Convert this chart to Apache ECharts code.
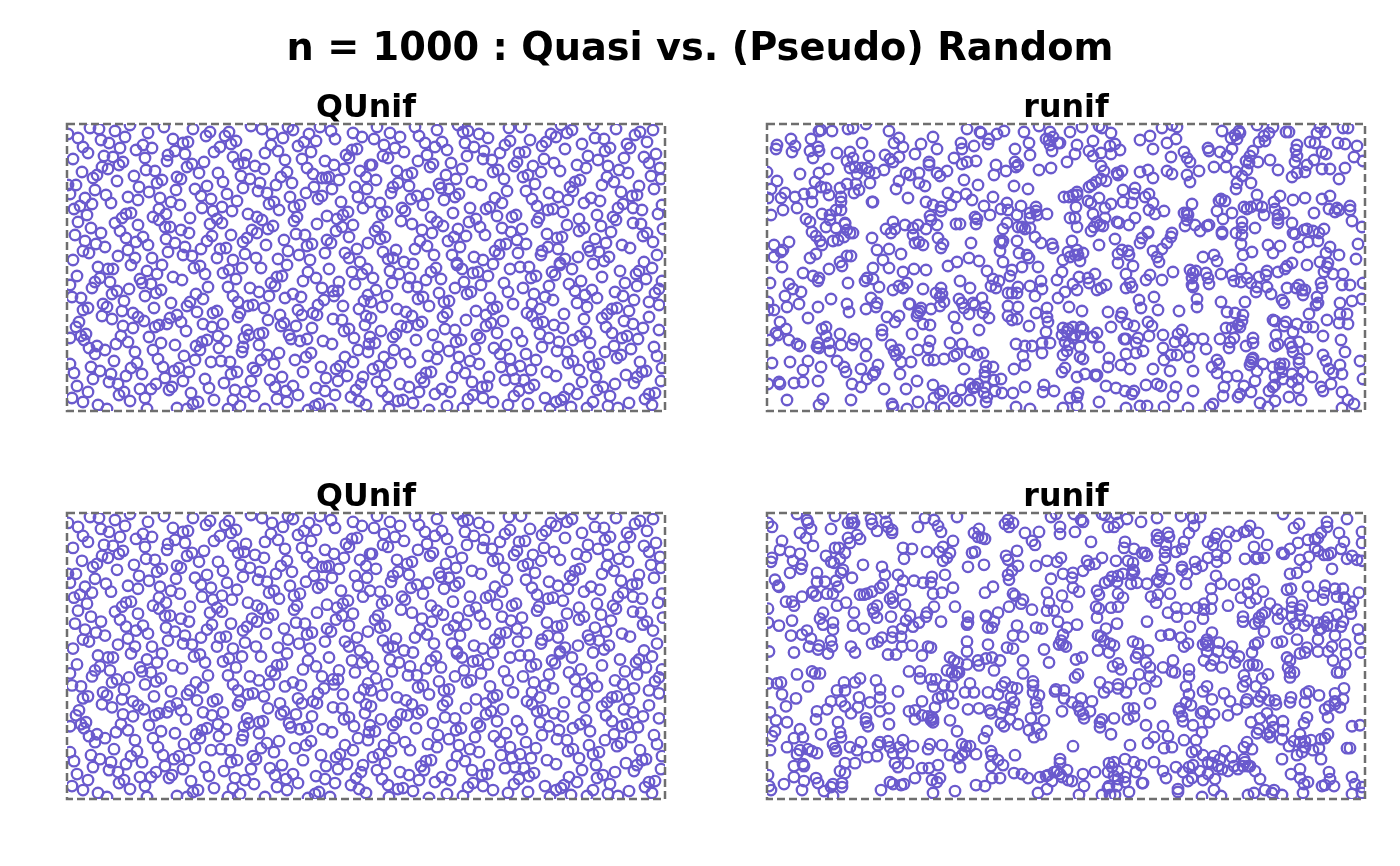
<!DOCTYPE html>
<html><head><meta charset="utf-8">
<script src="https://cdn.jsdelivr.net/npm/echarts@6/dist/echarts.min.js"></script>
<style>html,body{margin:0;background:#fff}#c{width:1400px;height:866px}</style></head>
<body><div id="c"></div>
<script>
const mainTitle='n = 1000 : Quasi vs. (Pseudo) Random';
const panelNames=['QUnif','runif','QUnif','runif'];
const qunifPts=[
1,10,23,4,32,5,48,7,63,1,81,9,97,3,126,5,143,8,139,12,162,8,158,12,184,2,195,5,205,10,221,3,226,6,242,10,253,3,264,7,268,15,286,9,295,13,11,14,34,16,42,19,58,13,106,15,116,19,121,18,169,17,164,20,216,14,204,21,231,22,237,18,249,17,16,23,21,29,53,24,69,26,76,21,85,24,108,27,101,31,100,37,118,30,147,28,153,23,198,29,211,27,244,28,279,31,285,26,290,25,282,34,6,35,37,32,46,33,56,38,52,41,35,43,41,45,78,34,125,40,120,43,137,38,166,33,179,31,171,40,177,39,188,42,197,45,218,36,235,35,240,44,258,37,267,41,277,45,303,41,15,48,30,51,26,54,67,52,79,46,88,47,132,49,151,49,174,52,220,48,214,53,246,50,293,47,299,53,1,61,9,61,50,57,90,59,95,56,110,53,114,55,156,58,183,55,193,59,209,61,225,59,255,54,259,54,262,53,272,56,3,70,28,66,72,63,82,68,109,66,128,65,140,62,176,64,191,67,200,69,247,63,239,69,265,65,288,63,300,65,18,74,39,71,61,73,71,76,93,74,134,72,144,75,160,70,170,77,223,73,255,72,251,75,291,73,7,85,13,82,25,80,44,79,104,78,113,81,202,80,207,78,227,83,233,81,274,78,92,85,135,84,146,87,155,83,165,87,212,86,296,84,20,91,64,89,59,90,55,94,99,90,86,93,123,94,181,90,190,93,195,96,230,93,227,97,260,92,281,88,276,91,270,95,11,98,48,99,92,96,150,95,143,100,155,99,250,100,206,102,24,104,71,101,53,107,98,103,103,103,114,106,122,109,185,106,190,109,201,105,275,103,269,107,286,101,8,111,34,109,59,114,76,113,145,112,140,117,164,111,229,110,238,111,282,113,18,117,69,118,99,115,108,119,176,118,180,114,217,116,260,116,264,119,301,119,29,120,38,123,81,121,118,123,199,121,245,120,240,122,134,125,153,125,159,124,16,127,22,129,61,126,101,128,221,127,258,129,278,129,290,125,6,136,51,132,68,134,85,134,116,131,125,132,150,134,178,130,189,134,166,136,211,135,232,131,243,136,282,134,293,138,
310,3,307,15,323,9,333,13,348,3,352,12,358,19,370,6,375,18,380,26,368,23,391,1,396,8,401,7,412,10,421,14,442,4,454,3,463,16,443,17,438,21,433,29,417,27,398,19,407,23,400,32,416,35,425,36,452,29,458,28,479,18,475,22,484,10,489,13,500,9,505,6,494,1,498,25,515,20,526,1,528,14,537,15,549,5,568,11,573,8,586,6,580,18,560,20,563,24,543,24,538,27,521,32,531,36,557,34,577,33,589,30,582,39,593,44,317,21,328,24,337,28,316,32,321,34,360,31,351,37,384,39,305,41,330,47,366,40,363,43,395,45,379,51,426,48,431,46,450,38,447,42,466,42,477,35,487,39,493,47,510,41,519,44,541,42,552,46,561,49,540,53,584,52,594,55,309,56,340,51,345,49,331,59,326,63,324,69,342,62,372,60,374,64,389,55,382,65,405,58,414,61,437,55,456,53,461,51,474,48,468,60,440,67,459,67,482,69,491,73,501,76,508,58,513,56,503,63,506,67,535,61,547,58,554,68,572,62,587,65,350,72,344,75,361,70,392,70,388,73,377,76,428,74,423,83,419,85,435,79,465,75,470,82,481,86,486,85,496,88,517,79,524,74,533,77,551,84,556,80,565,72,570,71,566,84,575,86,595,81,591,90,303,78,313,79,315,91,320,88,335,84,338,87,356,81,386,89,403,84,409,95,402,98,430,92,445,93,449,91,472,94,470,98,512,95,530,91,546,93,549,96,334,97,345,100,364,93,370,98,376,102,413,103,500,101,534,102,566,99,574,100,596,105,311,103,308,107,318,113,313,115,355,106,365,109,391,105,387,113,381,117,399,112,418,111,435,104,444,108,455,105,480,110,490,114,495,113,517,104,512,107,544,108,580,109,576,112,586,118,528,115,539,119,353,117,360,122,348,125,393,123,329,126,316,128,450,116,459,120,439,120,433,121,428,127,432,130,451,129,481,123,475,127,474,131,491,125,521,123,523,127,532,128,555,121,563,124,590,131,321,135,326,134,337,138,346,140,367,131,385,131,390,139,407,133,416,136,426,140,493,139,498,135,511,133,526,140,537,137,542,133,577,138,
31,143,41,145,46,145,64,141,80,147,95,141,127,144,133,142,138,150,156,149,162,146,175,144,194,144,220,141,241,148,262,145,285,148,295,150,3,161,10,152,33,154,28,158,25,164,43,158,73,155,75,159,84,160,90,150,106,153,115,156,141,163,161,163,169,155,183,164,192,168,202,172,204,159,208,162,210,153,215,152,236,157,249,154,255,164,272,158,266,167,271,167,288,160,50,167,45,170,62,165,94,166,89,169,78,172,5,173,14,174,57,177,36,180,40,183,129,170,123,178,120,182,136,175,166,172,171,178,181,182,186,181,197,184,218,174,226,170,234,173,257,176,251,181,267,172,276,182,297,177,301,171,16,186,21,184,87,184,104,179,130,188,55,187,66,189,71,193,77,197,35,192,45,195,110,191,103,194,114,198,146,189,150,187,173,189,171,193,231,186,213,191,246,189,250,191,292,185,299,192,266,195,275,196,201,196,235,191,12,198,9,203,56,202,66,204,92,201,88,203,82,213,100,200,119,207,136,200,156,200,145,203,180,206,192,210,196,209,217,199,214,202,245,204,298,201,282,205,277,207,287,214,229,202,19,210,14,212,3,214,54,212,61,218,49,220,94,219,151,212,159,217,140,216,135,218,129,222,133,226,152,224,182,211,177,214,175,228,192,221,240,215,233,217,222,211,224,215,256,217,265,220,303,213,17,216,30,222,22,224,28,230,38,226,47,237,68,228,86,226,108,221,117,232,176,223,212,229,244,229,239,233,228,236,200,231,194,236,291,226,301,228,3,240,24,243,7,249,33,247,91,235,96,243,128,236,144,238,154,237,163,238,207,240,107,247,112,244,122,248,70,239,64,244,278,233,286,238,273,242,269,245,254,243,186,244,189,247,170,248,164,250,44,250,59,252,75,250,236,248,296,253,280,252,259,254,271,257,26,255,42,258,51,260,98,254,116,257,138,255,184,257,203,256,215,253,157,259,89,260,10,262,142,264,168,266,208,263,226,262,294,260,21,268,73,265,105,263,102,266,57,268,52,271,84,265,78,274,124,269,178,268,187,272,231,271,219,267,249,264,258,267,268,271,289,266,5,274,16,278,63,277,147,276,166,276,210,275,220,278,284,273,292,277,131,278,126,280,31,281,40,285,80,285,110,284,120,285,161,285,173,282,198,285,241,286,248,282,252,280,263,285,299,281,
300,145,306,154,323,147,332,150,325,159,343,154,341,163,350,163,359,156,364,148,369,144,374,155,390,141,395,145,406,149,411,148,421,152,397,158,388,164,414,161,404,168,400,170,372,169,309,166,320,172,356,173,351,175,382,177,377,178,362,182,304,178,315,183,330,185,339,188,345,192,423,174,430,183,426,185,409,187,419,191,380,189,376,193,399,196,437,159,441,168,456,164,464,154,469,152,443,145,453,143,462,143,485,148,488,151,482,162,505,145,493,141,514,157,535,153,553,147,569,150,572,147,585,144,579,155,570,162,558,159,502,160,508,167,525,166,518,171,530,174,548,168,556,172,567,176,595,157,592,165,588,169,582,178,592,181,467,170,478,173,486,176,465,180,446,180,473,185,460,189,465,192,497,190,510,179,520,183,470,199,476,198,487,201,496,204,517,195,535,194,540,190,545,185,550,184,562,187,557,197,566,200,582,193,576,204,592,206,539,203,545,209,555,214,560,212,571,215,519,208,513,212,506,216,523,219,473,210,482,214,492,218,475,223,490,227,500,228,450,209,455,217,430,209,436,197,424,199,419,202,410,211,413,214,388,206,378,205,366,211,394,216,389,218,349,216,329,210,326,213,314,207,334,202,340,203,351,201,355,198,304,194,308,219,302,220,327,226,338,230,317,233,371,223,382,227,361,232,370,235,408,225,427,224,439,221,433,230,443,235,459,230,469,236,522,233,538,228,547,222,564,225,587,223,590,232,554,231,550,234,573,238,392,233,403,237,412,240,343,238,324,239,312,242,306,245,501,239,506,237,526,242,532,240,434,243,453,242,445,246,464,246,390,244,512,246,595,244,579,247,575,248,570,253,567,259,559,251,480,248,489,252,318,251,364,248,359,249,354,254,357,258,385,253,398,249,422,253,438,256,448,255,457,256,529,253,515,258,594,257,310,258,405,258,333,260,342,263,352,268,420,262,415,263,467,261,462,264,375,265,383,268,368,270,315,267,321,273,406,271,401,275,416,274,426,278,502,265,510,270,536,263,530,266,548,260,452,267,447,272,441,281,461,280,478,274,497,273,494,276,489,278,526,278,543,272,588,269,582,270,578,275,585,281,562,279,331,277,336,276,346,279,322,285,362,286,380,282,396,284,483,285,504,283,520,284,541,282,551,284
];
const runifTopPts=[
54,6,52,7,65,7,81,5,86,4,99,0,122,7,200,5,213,8,214,9,230,10,237,7,257,8,272,2,283,8,24,15,44,15,10,21,9,25,28,22,25,28,51,23,52,27,43,27,46,34,70,29,95,19,83,28,86,34,80,37,102,32,132,14,127,19,136,23,118,31,123,35,126,38,132,33,154,20,166,13,170,25,148,30,187,34,194,19,195,25,195,40,200,38,209,37,207,22,222,15,221,20,248,25,262,19,263,31,279,15,282,16,286,13,283,21,285,27,291,19,162,38,162,41,33,50,52,49,61,45,83,44,88,43,95,44,100,44,102,48,108,49,117,46,90,50,139,49,143,51,152,49,170,49,173,52,180,47,229,41,227,51,239,47,248,38,251,41,249,43,272,46,284,44,0,48,10,57,48,58,54,63,59,64,80,60,89,60,103,59,132,57,152,59,158,62,129,65,197,56,211,61,247,62,261,65,4,65,18,69,28,73,37,70,45,69,62,71,73,64,87,69,92,66,74,73,1,74,14,74,181,69,189,73,199,70,226,73,45,78,74,78,105,78,106,78,141,74,159,78,166,81,184,81,205,76,217,82,240,79,254,82,269,83,16,86,30,84,69,86,74,86,4,91,174,83,174,87,234,85,241,86,269,87,55,90,63,91,223,91,250,91,263,89,270,91,280,90,39,95,43,98,63,96,78,99,163,92,164,96,208,93,210,95,263,94,126,98,170,101,189,100,193,100,209,100,240,99,59,103,69,104,78,100,119,105,128,105,138,101,146,104,151,101,159,105,236,105,251,103,255,103,258,105,263,104,45,108,80,106,86,109,124,109,146,111,49,112,53,117,55,121,66,117,71,116,77,113,83,109,105,114,171,114,233,117,236,117,235,119,250,117,268,113,274,119,285,120,22,118,7,121,16,126,14,128,148,119,156,121,152,118,176,120,174,124,204,119,286,124,110,126,122,125,233,127,252,129,49,130,7,133,43,134,80,132,84,132,134,130,260,131,262,134,116,136,73,138,190,138,202,134,212,137,236,138,
315,3,303,8,332,2,335,4,344,9,395,4,405,1,410,3,373,16,383,12,400,19,409,15,455,7,472,7,473,9,468,11,464,14,470,15,490,1,506,3,502,9,497,12,498,17,492,18,519,8,522,8,550,9,558,8,553,3,576,4,581,4,293,19,310,21,326,17,343,22,348,20,353,26,322,27,308,30,334,29,326,32,344,30,386,25,404,33,417,28,420,34,423,38,441,24,442,27,453,28,460,32,465,25,486,27,530,21,529,26,543,18,548,19,571,19,578,20,590,22,555,28,559,30,587,33,596,37,300,38,334,42,337,47,491,38,483,32,479,37,482,39,530,32,528,38,503,36,540,41,547,36,459,43,447,43,469,48,480,46,432,47,511,46,555,45,563,45,578,44,373,48,381,46,400,47,405,50,350,49,355,47,351,51,538,48,530,49,525,53,386,54,420,51,423,58,475,52,470,59,469,65,484,59,572,55,339,57,334,55,329,58,325,61,322,63,356,66,368,64,310,68,306,71,302,73,297,73,310,71,367,70,382,70,378,73,490,71,513,72,332,74,321,77,324,79,356,78,365,79,386,79,425,80,452,77,454,75,458,77,526,76,538,74,555,75,563,72,507,78,309,83,344,80,338,84,326,90,382,86,388,90,397,87,420,89,417,89,450,87,465,89,477,83,480,85,484,83,490,81,495,83,497,91,508,85,517,89,511,91,562,85,568,88,570,84,572,86,583,82,583,86,547,89,303,94,308,94,338,94,368,94,421,91,420,96,456,95,511,95,585,97,330,98,333,101,350,98,352,99,310,103,362,101,336,102,327,103,324,107,418,102,428,101,440,102,442,101,433,107,475,98,475,104,488,104,511,99,525,99,595,103,540,105,537,106,546,107,557,105,381,108,381,109,405,109,404,113,455,108,455,110,469,109,475,111,526,109,528,110,552,109,375,114,373,119,348,115,305,117,332,121,400,119,541,118,551,117,474,120,501,121,513,122,532,123,563,123,591,120,301,128,310,126,316,129,303,133,308,131,311,131,355,126,361,127,351,130,362,131,386,127,395,125,476,131,485,128,506,129,559,129,572,131,447,131,296,136,313,137,351,139,366,142,390,133,392,138,436,133,450,137,589,135,553,138,561,139,540,141,525,139,520,142,560,143,
295,148,312,153,328,150,321,154,322,159,306,160,298,168,310,166,330,166,334,164,339,161,359,150,383,151,379,156,395,156,406,148,363,159,359,164,365,163,423,146,426,149,429,147,425,154,425,161,426,163,439,149,441,154,442,160,454,150,465,151,467,157,474,145,474,158,480,154,484,159,492,153,499,151,500,147,490,163,489,168,500,163,511,148,518,145,557,148,566,150,576,150,575,161,583,161,554,159,555,164,596,159,520,164,529,164,532,161,535,166,538,166,536,171,504,170,550,173,595,175,585,177,372,176,387,173,430,175,454,178,478,178,515,176,517,179,551,179,549,181,573,179,302,183,315,187,341,188,355,189,354,193,374,184,391,186,412,187,430,183,460,188,468,189,476,191,542,190,573,190,580,190,475,197,471,201,560,196,506,196,508,197,519,198,517,202,530,200,539,203,546,203,572,199,581,200,360,200,367,202,381,198,385,202,344,203,459,204,465,204,473,203,296,204,301,205,306,203,314,203,316,205,300,208,295,211,308,211,314,212,326,213,330,209,325,213,415,206,411,210,396,211,382,212,371,214,359,215,357,215,509,211,526,208,556,212,453,215,463,218,467,214,486,214,306,214,298,218,302,221,313,223,300,227,296,231,332,223,369,219,408,218,417,217,426,215,436,215,422,223,396,224,439,225,462,224,479,222,486,219,511,220,508,222,523,219,532,218,525,223,526,228,540,225,574,216,578,228,376,227,369,229,359,230,404,231,410,231,422,233,313,233,316,235,342,234,397,236,354,241,341,243,450,236,452,240,445,243,486,234,485,235,484,238,483,241,496,240,532,235,532,239,556,231,559,237,593,237,573,241,298,244,295,248,363,245,386,245,403,247,426,247,450,249,506,243,513,240,517,240,513,244,515,248,490,247,562,245,566,249,575,250,536,248,318,250,310,253,328,251,330,251,329,252,460,253,470,252,508,253,525,250,545,253,516,255,531,255,488,257,525,258,596,255,339,262,349,264,358,267,367,267,365,270,379,261,390,260,394,262,409,263,426,267,406,272,457,263,477,262,484,268,508,261,506,263,502,267,531,264,554,263,556,267,564,260,575,268,311,269,303,274,310,273,456,272,473,270,471,273,522,273,508,277,534,276,332,278,493,279,581,276,587,280,310,282,296,284,359,284,373,282,380,282,397,283,421,284,446,280,443,283,501,283,575,284,
15,143,36,149,46,152,52,154,51,157,62,145,75,142,106,144,122,144,136,148,147,145,159,146,181,142,220,147,245,146,243,152,255,143,271,143,81,159,100,154,98,157,106,155,112,163,3,159,22,160,26,165,34,168,18,172,64,175,126,166,132,162,136,164,140,159,156,165,193,157,203,164,174,164,226,155,232,157,224,162,229,164,251,163,263,162,274,157,275,165,290,156,241,169,245,169,250,169,268,172,291,174,169,169,175,170,173,173,104,174,192,175,215,174,177,178,195,179,206,179,1,178,20,183,32,180,51,183,80,180,110,179,109,183,143,180,142,180,173,182,197,184,208,181,218,183,241,182,251,183,280,184,1,186,7,186,82,188,99,185,154,184,153,187,164,185,151,189,150,192,202,190,216,189,269,189,41,194,120,193,132,192,187,193,222,194,241,192,245,196,250,195,280,193,13,198,128,198,156,200,163,201,262,202,281,198,19,205,55,205,59,203,190,204,212,206,279,208,9,209,11,211,73,210,115,206,115,211,145,210,3,216,22,216,59,212,87,215,163,217,183,219,195,220,249,220,275,219,283,219,51,219,62,219,30,220,33,222,50,223,52,224,74,221,85,221,99,220,124,221,258,222,265,222,63,227,127,227,132,226,129,231,151,226,161,224,203,228,210,231,216,229,190,230,187,232,275,229,99,232,256,232,5,239,23,238,41,237,70,237,134,238,144,238,161,236,167,236,177,235,111,241,54,243,77,243,219,242,226,243,258,241,36,246,79,248,94,245,108,248,106,251,133,250,197,245,218,248,247,245,100,255,150,257,218,253,227,256,234,255,1,260,12,258,13,260,27,259,36,258,51,257,85,260,166,261,203,260,211,260,208,263,206,264,94,263,117,265,139,265,218,263,258,263,277,261,176,267,173,270,194,266,228,267,235,269,246,269,276,268,287,267,217,269,220,273,20,276,56,275,84,276,167,274,187,274,190,277,203,276,151,278,219,278,52,281,125,280,126,283,164,283,140,285,177,284,249,283,263,285
];
const runifBottomPts=[
30,1,40,7,41,10,44,16,33,20,39,25,68,3,64,16,81,10,85,5,85,10,87,10,104,6,105,11,110,18,118,0,119,9,121,14,125,17,125,20,151,14,158,5,167,7,171,13,174,19,190,4,1,10,5,14,90,22,93,26,81,25,83,30,15,28,46,33,186,28,13,37,23,39,33,41,68,35,72,35,78,40,59,43,73,46,136,35,145,36,160,39,172,39,176,34,183,40,5,45,4,49,26,48,64,49,67,50,96,52,137,46,180,45,176,48,35,52,34,56,115,54,23,60,50,60,76,57,74,60,118,62,131,62,178,62,165,64,85,65,8,67,136,68,147,68,156,70,164,70,50,69,58,69,69,68,11,73,12,74,71,74,116,72,113,75,186,75,105,79,134,77,46,79,45,80,49,83,60,81,66,81,93,82,97,82,100,81,35,84,166,81,175,80,126,84,123,86,19,89,25,89,27,93,79,90,70,93,126,90,138,92,110,93,188,94,167,94,106,96,1,96,87,100,107,100,56,100,124,104,143,103,160,100,159,104,110,105,53,106,25,108,139,108,174,109,66,110,56,112,12,113,1,110,86,113,152,110,146,114,66,117,97,116,135,116,40,118,126,119,35,122,24,123,44,126,125,125,134,124,115,125,64,128,111,129,105,131,42,134,52,133,51,137,65,134,61,141,84,134,88,140,135,134,145,133,161,134,164,135,2,139,27,140,121,142,129,142,155,143,183,145,187,148,191,150,142,159,153,159,180,158,185,160,190,160,192,160,188,163,30,162,45,159,48,161,53,161,93,166,109,168,164,167,153,166,169,167,1,171,10,171,14,170,41,174,77,170,88,170,166,174,177,173,185,174,70,178,78,178,113,177,131,179,15,182,29,186,92,185,113,185,181,183,175,184,171,186,64,189,74,189,103,190,155,189,186,191,19,194,78,194,91,195,122,196,60,197,50,199,84,201,113,199,168,195,3,200,142,199,148,198,155,203,49,207,9,208,148,207,161,204,165,205,166,207,164,208,99,206,183,208,20,210,71,210,99,210,101,214,122,212,166,210,33,217,8,219,5,224,73,220,54,222,190,219,27,226,36,225,74,225,94,230,113,230,111,233,121,229,136,228,66,232,163,232,83,235,68,236,69,239,20,235,3,238,146,234,123,235,132,235,175,233,195,232,161,237,33,238,41,237,45,239,50,241,90,238,30,242,126,241,135,241,110,244,100,245,183,243,195,243,191,246,88,251,78,251,36,252,37,254,27,254,128,251,141,251,131,255,171,253,155,256,162,256,193,255,73,259,78,261,1,263,27,265,49,266,148,266,165,268,170,270,173,266,37,269,51,271,17,272,75,271,123,270,126,272,134,273,137,272,2,274,4,278,66,272,64,275,75,275,114,278,35,278,57,279,188,279,166,281,66,284,
284,4,289,1,307,1,335,1,338,2,349,1,360,6,374,9,390,5,238,11,241,7,246,10,242,14,212,16,207,20,211,24,215,25,218,26,258,20,272,19,265,28,268,32,293,14,293,21,308,19,314,7,316,9,341,14,347,14,351,10,324,29,358,29,357,35,367,36,390,22,390,28,392,25,401,20,399,32,250,38,205,40,208,39,239,43,241,47,375,40,378,40,380,43,398,39,398,45,294,45,290,49,280,48,335,45,320,48,322,52,328,51,349,48,361,48,366,50,201,54,217,52,251,53,269,53,245,58,316,58,366,57,367,59,241,62,242,67,296,61,306,60,305,65,284,66,351,63,345,64,356,61,365,62,395,57,394,62,402,66,390,67,342,68,338,70,350,69,364,71,370,70,380,71,392,69,226,74,218,80,246,81,248,83,280,80,306,75,312,79,330,78,332,82,351,81,356,85,384,84,391,82,295,83,256,87,254,91,282,90,389,90,242,94,300,94,329,94,332,96,344,95,351,94,265,97,280,98,287,98,231,100,401,100,219,103,219,104,201,104,330,105,227,109,291,109,380,109,201,110,200,112,250,113,310,112,350,111,221,115,225,115,269,115,275,116,300,115,339,116,246,123,256,124,296,122,331,123,334,124,394,123,402,122,294,128,337,128,200,129,366,129,371,131,221,132,292,132,296,132,299,134,343,131,347,133,240,135,246,136,277,137,200,139,331,138,342,140,381,138,371,141,369,145,309,147,315,145,211,148,219,146,225,145,233,148,256,148,282,150,200,152,212,153,379,150,383,155,351,151,346,154,354,157,396,155,227,158,256,161,311,162,308,165,372,162,383,164,203,171,238,170,235,174,266,169,266,173,333,170,351,172,364,171,389,169,341,175,207,180,221,180,245,175,250,176,266,180,231,182,288,179,297,178,337,180,359,180,351,176,378,176,272,183,244,185,289,177,198,180,247,190,269,190,297,186,305,190,314,186,325,189,383,191,201,197,212,196,223,198,237,195,245,197,270,196,311,194,361,196,367,196,224,201,234,201,295,199,313,199,323,199,316,202,317,206,243,207,264,206,277,208,367,204,335,207,333,210,361,207,347,206,234,211,237,214,251,212,379,213,396,214,333,215,262,218,270,216,220,219,217,226,274,222,267,225,344,222,387,225,401,224,381,231,203,234,199,234,306,234,363,233,397,236,224,239,225,243,209,242,248,243,198,240,293,247,358,247,387,250,342,251,347,250,231,248,293,251,367,250,236,253,224,254,374,253,300,258,345,255,290,259,287,260,293,262,316,262,328,260,247,261,255,262,341,260,351,259,369,260,396,259,279,264,281,263,273,265,261,266,233,266,225,266,295,265,301,268,305,269,285,269,347,264,358,265,351,267,358,270,399,266,375,271,376,271,209,273,218,274,317,274,342,274,341,276,350,274,280,277,271,281,362,280,312,283,335,283,343,283,348,283,
414,3,426,5,433,4,427,13,516,1,580,6,532,11,527,15,560,9,560,14,483,13,402,24,422,20,450,21,448,25,462,19,469,23,477,19,480,18,491,20,554,20,572,20,595,19,417,29,441,29,446,32,459,33,500,32,487,34,541,27,548,26,551,25,531,30,523,36,577,29,595,30,574,36,548,35,551,38,415,36,409,39,441,45,450,42,458,45,450,49,478,46,489,46,491,45,497,45,515,40,517,41,542,44,533,47,557,42,561,42,564,40,580,46,585,43,590,47,595,48,428,49,435,53,415,54,415,57,429,56,539,54,565,56,420,61,449,63,523,61,530,60,487,67,419,71,454,71,467,72,481,71,444,76,541,74,558,73,520,77,524,76,496,79,403,81,481,80,568,76,576,76,592,80,557,80,474,85,445,86,489,86,546,83,570,84,577,85,586,89,556,87,525,89,483,90,578,86,437,91,461,93,503,91,525,95,535,93,583,94,409,95,419,96,430,95,444,96,437,97,510,97,533,97,498,100,515,101,410,104,436,106,476,104,495,102,492,105,525,104,533,103,570,102,584,101,511,106,476,109,488,111,492,109,541,108,550,110,561,105,557,109,576,109,528,111,537,113,566,113,423,114,554,116,560,113,574,114,552,117,522,116,497,119,591,117,445,120,403,122,414,125,568,123,593,126,530,127,551,127,440,127,439,130,510,130,515,129,491,130,488,132,452,130,441,133,421,131,417,134,465,134,436,132,578,132,565,134,540,135,538,140,533,141,551,139,561,139,440,139,451,139,461,140,485,140,579,141,594,140,472,144,447,147,437,148,520,145,566,148,406,148,523,148,444,153,455,155,468,150,482,153,486,152,490,153,578,152,521,155,523,160,405,159,422,157,408,160,527,160,570,160,573,160,422,164,523,165,501,162,495,166,477,163,479,169,476,174,489,174,419,174,440,174,577,176,436,179,422,182,457,181,497,180,542,179,539,181,552,183,568,181,494,184,445,187,463,189,419,190,424,193,480,187,479,190,491,189,502,188,508,188,509,192,524,185,523,190,538,190,568,189,576,187,413,196,412,199,470,197,568,192,562,194,558,197,573,195,436,199,434,201,447,202,461,203,500,201,415,204,416,209,442,210,493,206,505,208,540,205,561,205,484,210,516,209,537,211,426,213,585,214,593,213,492,217,506,215,435,220,490,221,503,220,516,218,500,222,503,225,533,222,561,222,417,228,429,228,515,227,527,229,533,230,538,229,544,228,554,227,558,226,405,235,480,230,477,235,485,237,522,234,538,235,552,236,546,238,580,236,583,236,429,238,425,240,436,243,458,239,530,243,535,240,447,244,465,245,477,247,515,247,554,247,453,247,441,250,445,251,426,253,422,255,409,255,478,250,476,254,483,254,481,254,451,254,455,257,461,259,467,254,471,257,533,257,416,260,433,259,441,262,488,259,524,262,562,260,448,267,533,266,493,267,563,267,425,266,421,269,436,268,585,265,541,270,537,272,567,274,555,274,558,273,588,272,595,275,447,278,411,277,411,280,498,278,507,278,505,281,435,285,454,284,481,283,487,281,515,283,536,281,585,282,595,281
];
const toPairs=a=>{const r=[];for(let k=0;k<a.length;k+=2)r.push([a[k],a[k+1]]);return r;};
const panelData=[qunifPts,runifTopPts,qunifPts,runifBottomPts];
const chart=echarts.init(document.getElementById('c'));
const lefts=[67,767],tops=[124,513];
const grids=[],xs=[],ys=[],series=[],titles=[],masks=[];
const mask=(x,y,w,h)=>({type:'rect',shape:{x,y,width:w,height:h},style:{fill:'#fff'},silent:true,z:4});
for(let i=0;i<4;i++){
 const l=lefts[i%2],t=tops[i>>1],h=i>1?286:287;
 grids.push({left:l,top:t,width:598,height:h,show:true,borderColor:'#6e6e6e',borderWidth:2.5,borderType:[8,4],backgroundColor:'transparent',z:5});
 xs.push({gridIndex:i,type:'value',min:0,max:598,show:false});
 ys.push({gridIndex:i,type:'value',min:0,max:287,inverse:true,show:false});
 series.push({type:'scatter',xAxisIndex:i,yAxisIndex:i,data:toPairs(panelData[i]),symbol:'circle',symbolSize:10.5,clip:true,itemStyle:{color:'rgba(0,0,0,0)',borderColor:'#6A5ACD',borderWidth:2.3,opacity:1},silent:true,animation:false,z:2});
 titles.push({text:panelNames[i],left:l+299,top:t-31,padding:0,textAlign:'center',textStyle:{fontFamily:'DejaVu Sans',fontWeight:'bold',fontSize:31.7,color:'#000',lineHeight:32}});
 masks.push(mask(l-9,t-9,616,9),mask(l-9,t+h,616,9),mask(l-9,t-9,9,h+18),mask(l+598,t-9,9,h+18));
}
titles.push({text:mainTitle,left:700,top:28,padding:0,textAlign:'center',textStyle:{fontFamily:'DejaVu Sans',fontWeight:'bold',fontSize:38.3,color:'#000',lineHeight:44}});
chart.setOption({animation:false,backgroundColor:'#fff',title:titles,grid:grids,xAxis:xs,yAxis:ys,series,graphic:{z:4,elements:masks}});
</script></body></html>
